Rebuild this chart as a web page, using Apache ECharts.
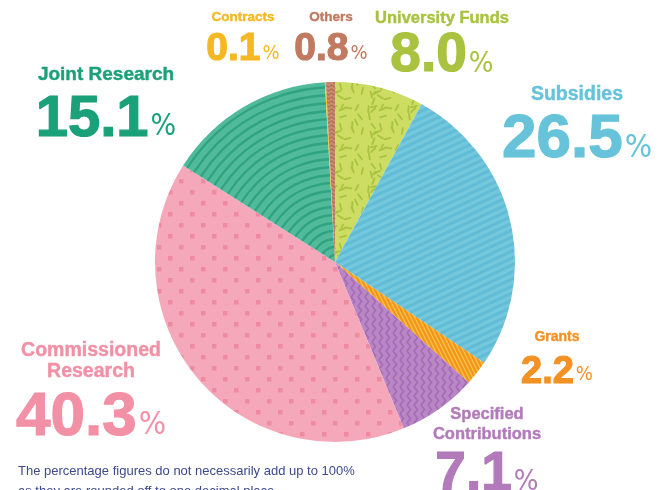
<!DOCTYPE html>
<html>
<head>
<meta charset="utf-8">
<script src="https://cdn.jsdelivr.net/npm/echarts/dist/echarts.min.js"></script>
<style>
html, body { margin: 0; padding: 0; background: #fff; }
#main { width: 659px; height: 490px; }
</style>
</head>
<body>
<div id="main"></div>
<script>
// data, clockwise from 12 o'clock
var categories = ['University Funds', 'Subsidies', 'Grants', 'Specified Contributions',
	'Commissioned Research', 'Joint Research', 'Contracts', 'Others'];
var shares = [8.0, 26.5, 2.2, 7.1, 40.3, 15.1, 0.1, 0.8];
var labelNames = ['University Funds', 'Subsidies', 'Grants', 'Specified\nContributions',
	'Commissioned\nResearch', 'Joint Research', 'Contracts', 'Others'];
var footnote = 'The percentage figures do not necessarily add up to 100%\nas they are rounded off to one decimal place.';

var CX = 335, CY = 262, R = 180;
var BOLD = '"Liberation Sans", Arial, sans-serif';
var NARROW = '"Liberation Sans Narrow", "DejaVu Sans Condensed", "Liberation Sans", sans-serif';

var textColors = ['#a9c23f', '#66c3d9', '#f39224', '#b27abb', '#f290a6', '#1ba17a', '#f4b823', '#c07a60'];

// label placement: x = centre, top = top of block, ns/nl name size/line, vs/vl value size/line
var labelLayouts = [
	{x: 442, top: 8,   ns: 16.5, nl: 20, vs: 55, vl: 55},
	{x: 577, top: 84,  ns: 19.5, nl: 22, vs: 62, vl: 65},
	{x: 557, top: 329, ns: 14,   nl: 17, vs: 38, vl: 46},
	{x: 487, top: 404, ns: 16.5, nl: 20, vs: 55, vl: 58},
	{x: 91,  top: 340, ns: 19.5, nl: 21, vs: 62, vl: 67},
	{x: 106, top: 64,  ns: 19,   nl: 22, vs: 58, vl: 63},
	{x: 243, top: 9,   ns: 13.5, nl: 16, vs: 39, vl: 44},
	{x: 331, top: 9,   ns: 13.5, nl: 16, vs: 39, vl: 44}
];

function tile(w, h, bg, draw) {
	var c = document.createElement('canvas');
	c.width = w; c.height = h;
	var g = c.getContext('2d');
	g.fillStyle = bg;
	g.fillRect(0, 0, w, h);
	if (draw) draw(g, w, h);
	return {image: c, repeat: 'repeat'};
}

// sprinkles (fixed seed so it is the same every time)
var seed = 7;
function rnd() { seed = (seed * 16807) % 2147483647; return (seed - 1) / 2147483646; }
var fundsFill = tile(40, 40, '#cddc63', function(g, w, h) {
	g.strokeStyle = '#a9c341';
	g.lineWidth = 1.8;
	g.lineCap = 'round';
	for (var i = 0; i < 22; i++) {
		var x = rnd() * w, y = rnd() * h, a = rnd() * Math.PI, l = 3;
		for (var ox = -w; ox <= w; ox += w) for (var oy = -h; oy <= h; oy += h) {
			g.beginPath();
			g.moveTo(x + ox - Math.cos(a) * l, y + oy - Math.sin(a) * l);
			g.lineTo(x + ox + Math.cos(a) * l, y + oy + Math.sin(a) * l);
			g.stroke();
		}
	}
});
var subsidyFill = tile(30, 14, '#74c8de', function(g) {
	g.strokeStyle = '#62bcd5';
	g.lineWidth = 3;
	for (var k = -2; k <= 6; k++) {
		g.beginPath(); g.moveTo(-1, k * 7 + 0.47); g.lineTo(31, k * 7 - 14 - 0.47); g.stroke();
	}
});
var grantFill = tile(8, 16, '#f3931f', function(g) {
	g.strokeStyle = '#f8bf3c';
	g.lineWidth = 1.5;
	for (var k = -3; k <= 3; k++) {
		g.beginPath(); g.moveTo(k * 4, 0); g.lineTo(k * 4 + 8, 16); g.stroke();
	}
});
var specFill = tile(7, 9, '#ba87c6', function(g) {
	g.strokeStyle = '#a56db5';
	g.lineWidth = 1.8;
	for (var k = -1; k <= 1; k++) {
		g.beginPath(); g.moveTo(k * 7 + 1, 0); g.lineTo(k * 7 + 4.5, 4.5); g.lineTo(k * 7 + 1, 9); g.stroke();
	}
});
var commFill = tile(22, 22, '#f4a8b9', function(g) {
	g.fillStyle = '#ee8ba3';
	g.fillRect(3, 3, 4.5, 4.5);
	g.fillRect(14, 14, 4.5, 4.5);
});
// concentric arcs round the pie centre
var jointFill = (function() {
	var c = document.createElement('canvas');
	c.width = 659; c.height = 490;
	var g = c.getContext('2d');
	g.fillStyle = '#51ba9b';
	g.fillRect(0, 0, 659, 490);
	g.strokeStyle = '#2fa382';
	g.lineWidth = 2.3;
	for (var r = R - 5; r > 0; r -= 8) {
		g.beginPath(); g.arc(CX, CY, r, 0, Math.PI * 2); g.stroke();
	}
	return {image: c, repeat: 'no-repeat'};
})();
var othersFill = tile(6, 8, '#c98b71', function(g) {
	g.strokeStyle = '#b06f56';
	g.lineWidth = 1.3;
	[2, 6].forEach(function(y) {
		g.beginPath(); g.moveTo(0, y);
		g.quadraticCurveTo(1.5, y - 1.6, 3, y);
		g.quadraticCurveTo(4.5, y + 1.6, 6, y);
		g.stroke();
	});
});
var fills = [fundsFill, subsidyFill, grantFill, specFill, commFill, jointFill, '#f6c41d', othersFill];

function richFor(i) {
	var L = labelLayouts[i], col = textColors[i];
	var ps = Math.round(L.vs * 0.52);
	var pad = Math.max(0, Math.round(L.vl / 2 - 0.3465 * L.vs - 0.1535 * ps));
	return {
		n: {fontFamily: BOLD, fontWeight: 'bold', fontSize: L.ns, lineHeight: L.nl, color: col,
			textBorderColor: col, textBorderWidth: 0.4},
		v: {fontFamily: BOLD, fontWeight: 'bold', fontSize: L.vs, lineHeight: L.vl, color: col, verticalAlign: 'bottom',
			textBorderColor: col, textBorderWidth: 1.2},
		p: {fontFamily: NARROW, fontSize: ps, lineHeight: ps, color: col, verticalAlign: 'bottom', padding: [0, 0, pad, 2]}
	};
}

var pieData = [];
for (var i = 0; i < categories.length; i++) {
	pieData.push({
		name: categories[i],
		value: shares[i],
		itemStyle: {color: fills[i]},
		label: {color: textColors[i], rich: richFor(i)}
	});
}

var myChart = echarts.init(document.getElementById('main'));
var option = {
	backgroundColor: '#fff',
	animation: false,
	title: {
		text: footnote,
		left: 13,
		top: 456,
		textStyle: {fontFamily: BOLD, fontWeight: 'normal', fontSize: 13, lineHeight: 20, color: '#3d4a8c'}
	},
	series: [{
		type: 'pie',
		center: [CX, CY],
		radius: R,
		startAngle: 90,
		clockwise: true,
		silent: true,
		avoidLabelOverlap: false,
		itemStyle: {borderWidth: 0},
		label: {
			show: true,
			position: 'outside',
			formatter: function(p) {
				return '{n|' + labelNames[p.dataIndex] + '}\n{v|' + p.value.toFixed(1) + '}{p|%}';
			}
		},
		labelLine: {show: false},
		labelLayout: function(p) {
			var L = labelLayouts[p.dataIndex];
			return {x: L.x, y: L.top, align: 'center', verticalAlign: 'top'};
		},
		data: pieData
	}]
};
myChart.setOption(option);
</script>
</body>
</html>
